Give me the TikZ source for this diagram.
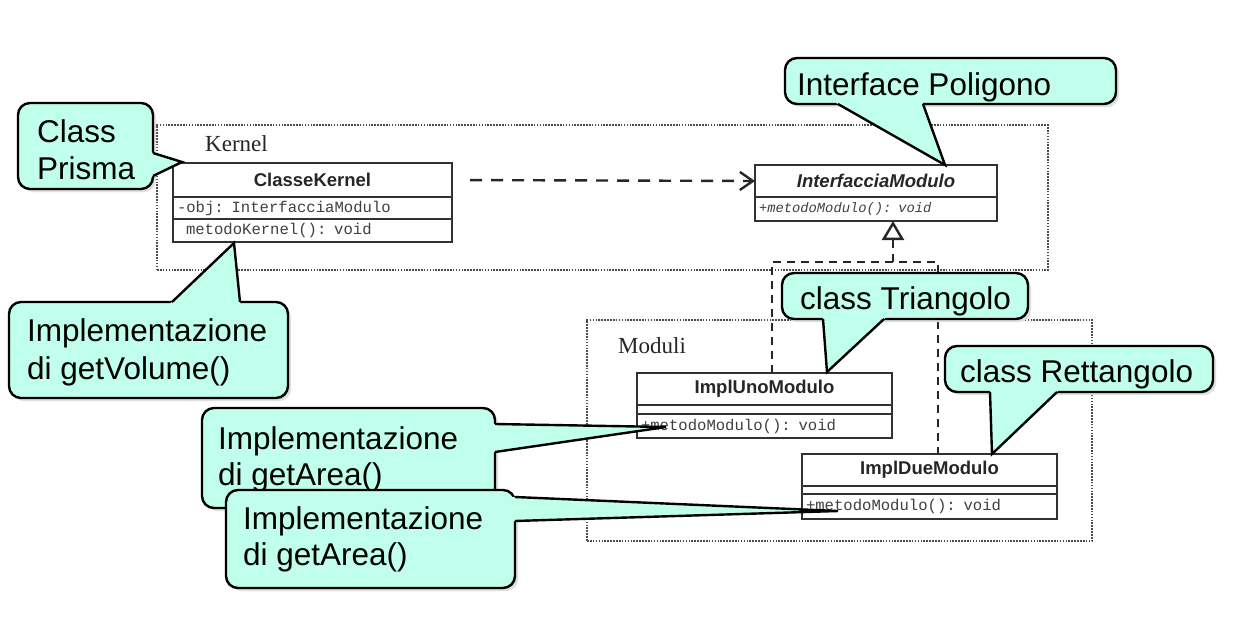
\documentclass[tikz,border=0pt]{standalone}
\usepackage{fontspec}
\setmainfont{Liberation Serif}
\newfontfamily\csans{Liberation Sans}
\newfontfamily\cmono{Liberation Mono}
\usetikzlibrary{arrows.meta,calc}
\definecolor{callfill}{RGB}{192,255,236}
\definecolor{umlline}{RGB}{50,50,50}
\tikzset{
  pkg/.style={draw=gray!60!black, line width=2.6pt, dash pattern=on 1.6pt off 1.3pt,
    anchor=north west, inner sep=0pt, outer sep=0pt},
  pkglabel/.style={font=\fontsize{23}{27}\selectfont, anchor=base west, inner sep=0pt, text=black!85},
  comp/.style={draw=umlline, line width=2.6pt, fill=white, anchor=north west, inner sep=0pt, outer sep=0pt},
  cname/.style={comp, font=\csans\bfseries\fontsize{18.5}{22}\selectfont, align=center, text=black!85},
  cattr/.style={comp, font=\cmono\fontsize{15.6}{18}\selectfont, text=black!75, align=left,
    inner xsep=4pt, inner ysep=0pt},
  dep/.style={draw=black!85, line width=2.4pt, dash pattern=on 12pt off 9pt,
    -{Straight Barb[length=13pt,width=18pt]}},
  real/.style={draw=black!85, line width=2.4pt, dash pattern=on 8pt off 6pt},
  cshadow/.style={fill=gray!25, rounded corners=12pt},
  cbox/.style={fill=callfill, draw=black, line width=2.4pt, rounded corners=12pt},
  cline/.style={draw=black, line width=2.4pt},
  ctext/.style={font=\csans\fontsize{31.5}{37}\selectfont, anchor=base west, inner sep=0pt, text=black},
}
% #1 name, #2 left, #3 top, #4 right, #5 bottom, #6 base point 1, #7 base point 2, #8 tip
\newcommand\mycallout[8]{%
  \fill[cshadow] (#2+3,#3+3) rectangle (#4+3,#5+3);
  \filldraw[cbox] (#2,#3) rectangle (#4,#5);
  \coordinate (#1-tip) at (#8);
  \coordinate (#1-b1) at (#6);
  \coordinate (#1-b2) at (#7);
  \fill[callfill] ($(#1-b1)!-4pt!(#1-tip)$) -- (#1-tip) -- ($(#1-b2)!-4pt!(#1-tip)$) -- cycle;
  \draw[cline] (#1-b1) -- (#1-tip) -- (#1-b2);
}
\begin{document}
\begin{tikzpicture}[x=1pt,y=-1pt]
\useasboundingbox (0,0) rectangle (1254,627);
\fill[white] (0,0) rectangle (1254,627);

% packages
\node[pkg, minimum width=891pt, minimum height=145pt] (kernel) at (157,125) {};
\node[pkglabel] (kernellbl) at (205,151) {Kernel};
\node[pkg, minimum width=505pt, minimum height=221pt] (moduli) at (587,320) {};
\node[pkglabel] (modulilbl) at (618,353) {Moduli};

% ClasseKernel
\node[cname, minimum width=279pt, minimum height=34pt] (ckn) at (173,163) {ClasseKernel};
\node[cattr, text width=271pt, minimum height=22pt] (cka) at (173,197) {-obj: InterfacciaModulo};
\node[cattr, text width=271pt, minimum height=23pt] (ckm) at (173,219) {\hspace*{9pt}metodoKernel(): void};

% InterfacciaModulo
\node[cname, font=\csans\bfseries\itshape\fontsize{18.5}{22}\selectfont, minimum width=242pt, minimum height=32pt] (imn) at (755,165) {InterfacciaModulo};
\node[cattr, font=\cmono\itshape\fontsize{13.8}{16}\selectfont, text width=234pt, minimum height=24pt] (imm) at (755,197) {+metodoModulo(): void};

% ImplUnoModulo
\node[cname, minimum width=255pt, minimum height=32pt] (unon) at (637,373) {ImplUnoModulo};
\node[comp, minimum width=255pt, minimum height=9pt] (unoa) at (637,405) {};
\node[cattr, text width=247pt, minimum height=24pt] (unom) at (637,414) {+metodoModulo(): void};

% ImplDueModulo
\node[cname, minimum width=255pt, minimum height=32pt] (duen) at (802,454) {ImplDueModulo};
\node[comp, minimum width=255pt, minimum height=8pt] (duea) at (802,486) {};
\node[cattr, text width=247pt, minimum height=25pt] (duem) at (802,494) {+metodoModulo(): void};

% dependency
\draw[dep, shorten <=18pt] (ckn.east) -- (imn.west);

% realization
\coordinate (jl) at (772,262);
\coordinate (jr) at (938,262);
\coordinate (jm) at (893,262);
\draw[real] (unon.north -| jl) -- (jl) -- (jr) -- (duen.north -| jr);
\draw[real, -{Triangle[open, length=19pt, width=22pt]}] (jm) -- (imm.south -| jm);

% callouts
\mycallout{cp}{18}{103}{153}{189}{153,153}{153,176}{182,162}
\node[ctext] (cp1) at (37,142) {Class};
\node[ctext] (cp2) at (37,179) {Prisma};

\mycallout{cv}{9}{302}{288}{398}{172,302}{240,302}{234,243}
\node[ctext] (cv1) at (27,341) {Implementazione};
\node[ctext] (cv2) at (27,379) {di getVolume()};

\mycallout{ca}{202}{408}{495}{508}{495,424}{495,452}{666,427}
\node[ctext] (ca1) at (218,449) {Implementazione};
\node[ctext] (ca2) at (218,485) {di getArea()};

\mycallout{cb}{226}{490}{515}{588}{515,497}{515,521}{838,511}
\node[ctext] (cb1) at (243,529) {Implementazione};
\node[ctext] (cb2) at (243,565) {di getArea()};

\mycallout{ct}{782}{273}{1028}{319}{823,319}{884,319}{827,372}
\node[ctext] (ct1) at (800,309) {class Triangolo};

\mycallout{cr}{945}{346}{1213}{392}{990,392}{1057,392}{992,454}
\node[ctext] (cr1) at (960,382) {class Rettangolo};

\mycallout{ci}{785}{58}{1116}{104}{838,104}{923,104}{945,165}
\node[ctext] (ci1) at (797,95) {Interface Poligono};
\end{tikzpicture}
\end{document}
